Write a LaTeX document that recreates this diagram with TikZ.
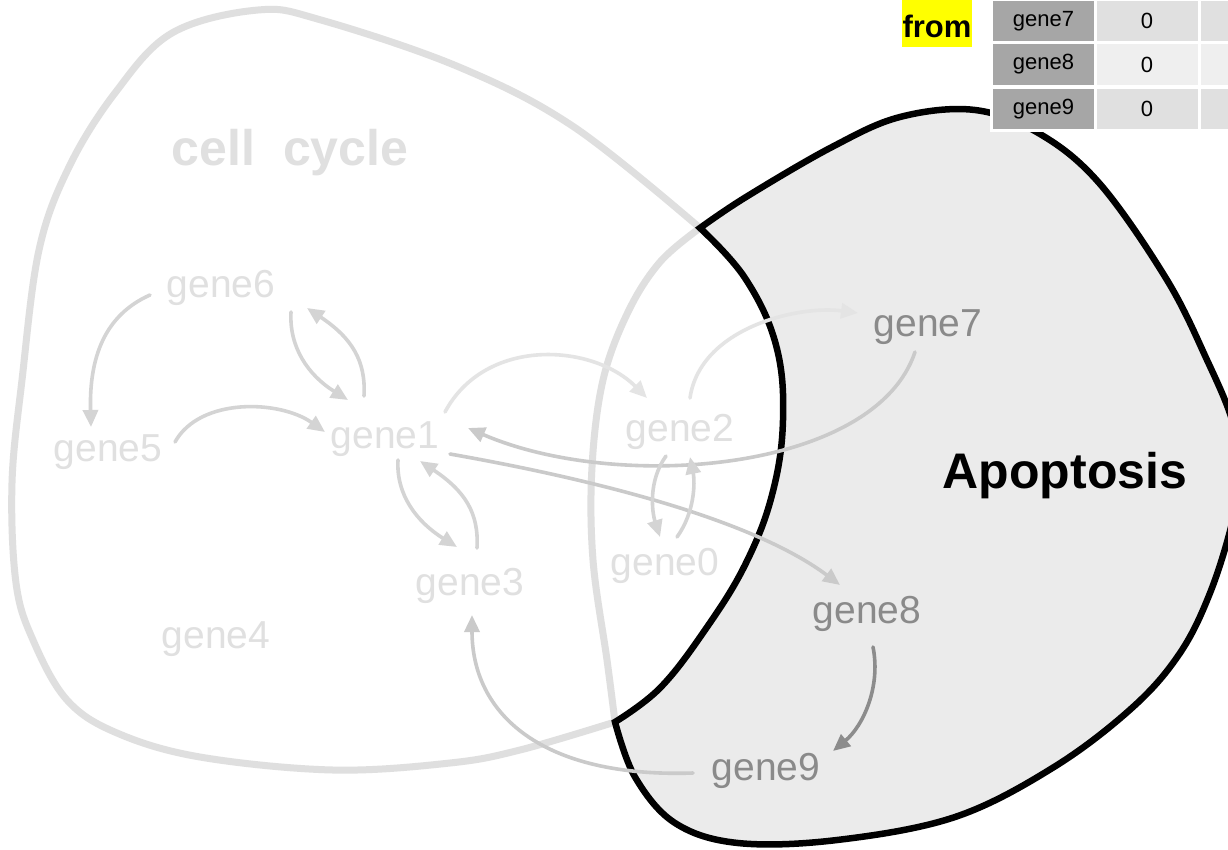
\documentclass[tikz,border=0pt]{standalone}
\usepackage{fontspec}
\setmainfont{Liberation Sans}
\usetikzlibrary{calc,arrows.meta}
\definecolor{ccline}{HTML}{DFDFDF}
\definecolor{cctext}{HTML}{E0E0E0}
\definecolor{apofill}{HTML}{EBEBEB}
\definecolor{darkgene}{HTML}{8A8A8A}
\definecolor{arrA}{HTML}{D4D4D4}
\definecolor{arrB}{HTML}{E4E4E4}
\definecolor{arrC}{HTML}{CACACA}
\definecolor{arrD}{HTML}{8C8C8C}
\definecolor{celldark}{HTML}{A6A6A6}
\definecolor{cellmid}{HTML}{E0E0E0}
\definecolor{celllight}{HTML}{EFEFEF}
\definecolor{hiyellow}{HTML}{FFFF00}
\begin{document}
\begin{tikzpicture}[x=1pt,y=-1pt,
  gene/.style={font=\fontsize{39}{40}\selectfont, inner sep=0pt, text height=28pt, text depth=8pt, anchor=center},
  lightgene/.style={gene, text=cctext},
  darkg/.style={gene, text=darkgene},
  conn/.style={line width=3.6pt, line cap=round, -{Triangle[length=17pt,width=15pt]}},
  connA/.style={conn, draw=arrA},
  connB/.style={conn, draw=arrB},
  connC/.style={conn, draw=arrC},
  connD/.style={conn, draw=arrD},
  title/.style={font=\bfseries\fontsize{50}{52}\selectfont, inner sep=0pt, anchor=base},
  cell/.style={inner sep=0pt, minimum width=101pt, minimum height=40pt, font=\fontsize{22}{24}\selectfont, text=black},
]
\useasboundingbox (0,0) rectangle (1228,849);
\clip (0,0) rectangle (1228,849);
\fill[white] (0,0) rectangle (1228,849);

% cell cycle outline
\draw[ccline, line width=7pt, line join=round]
  plot[smooth, tension=0.6] coordinates {(700,228) (574,127) (459,67) (321,20) (258,10) (172,33) (115,93) (69,167) (39,250) (22,380) (12,483) (16,583) (33,640) (67,700) (117,733) (200,757) (333,770) (450,763) (520,750) (615,722)}
  -- plot[smooth, tension=0.6] coordinates {(615,722) (607,660) (593,560) (592,467) (603,380) (628,312) (660,262) (700,228)};

% apoptosis region
\filldraw[fill=apofill, draw=black, line width=6.5pt, line join=miter]
  plot[smooth, tension=0.6] coordinates {(700,228) (746,197) (832,147) (900,117) (975,110) (1040,134) (1100,184) (1167,280) (1207,360) (1232,420) (1240,470) (1232,523) (1210,593) (1180,653) (1133,707) (1054,767) (955,817) (837,840) (738,843) (675,823) (635,777) (615,722)}
  -- plot[smooth, tension=0.65] coordinates {(615,722) (660,688) (705,630) (745,565) (772,495) (783,420) (776,345) (745,278) (700,228)}
  -- cycle;

% labels of the groups
\node[title, text=cctext] (cc) at (290,165) {cell~~cycle};
\node[title, text=black] (apo) at (1065,488) {Apoptosis};

% genes
\node[lightgene] (g6) at (221,287) {gene6};
\node[lightgene] (g5) at (108,451) {gene5};
\node[lightgene] (g1) at (385,438) {gene1};
\node[lightgene] (g3) at (470,585) {gene3};
\node[lightgene] (g4) at (216,638) {gene4};
\node[lightgene] (g2) at (680,431) {gene2};
\node[lightgene] (g0) at (665,565) {gene0};
\node[darkg] (g7) at (928,326) {gene7};
\node[darkg] (g8) at (867,613) {gene8};
\node[darkg] (g9) at (766,770) {gene9};

% connectors
\draw[connA] ($(g6)+(-71,8)$) .. controls +(-45,20) and +(-2,-70) .. ($(g5)+(-17,-24)$);
\draw[connA] ($(g5)+(67,-9)$) .. controls +(25,-45) and +(-45,-32) .. ($(g1)+(-60,-6)$);
\draw[connA] ($(g6)+(70,25)$) .. controls +(-2,35) and +(-40,-25) .. ($(g1)+(-37,-38)$);
\draw[connA] ($(g1)+(-21,-42)$) .. controls +(2,-35) and +(45,30) .. ($(g6)+(86,21)$);
\draw[connA] ($(g1)+(13,22)$) .. controls +(-2,35) and +(-40,-25) .. ($(g3)+(-13,-38)$);
\draw[connA] ($(g3)+(7,-37)$) .. controls +(2,-35) and +(45,30) .. ($(g1)+(35,23)$);
\draw[connB] ($(g1)+(60,-26)$) .. controls +(40,-75) and +(-55,-55) .. ($(g2)+(-33,-33)$);
\draw[connB] ($(g2)+(10,-33)$) .. controls +(10,-70) and +(-60,-8) .. ($(g7)+(-70,-13)$);
\draw[connC] ($(g7)+(-13,26)$) .. controls +(-40,120) and +(150,65) .. ($(g1)+(83,-10)$);
\draw[connC] ($(g1)+(65,16)$) .. controls +(170,30) and +(-80,-60) .. ($(g8)+(-27,-28)$);
\draw[connA] ($(g2)+(-14,25)$) .. controls +(-18,25) and +(-8,-25) .. ($(g0)+(-5,-28)$);
\draw[connA] ($(g0)+(12,-28)$) .. controls +(18,-25) and +(5,25) .. ($(g2)+(10,26)$);
\draw[connD] ($(g8)+(6,34)$) .. controls +(8,40) and +(30,-25) .. ($(g9)+(67,-19)$);
\draw[connC] ($(g9)+(-73,3)$) .. controls +(-150,5) and +(0,100) .. ($(g3)+(2,30)$);

% table
\fill[white] (990,0) rectangle (1240,132);
\node[cell, fill=celldark] (t11) at (1043.5,21) {gene7};
\node[cell, fill=cellmid] (t12) at (1147,21) {0};
\node[cell, fill=cellmid, anchor=west] (t13) at (1201,21) {};
\node[cell, fill=celldark, minimum height=41pt] (t21) at (1043.5,64.5) {gene8};
\node[cell, fill=celllight, minimum height=41pt] (t22) at (1147,64.5) {0};
\node[cell, fill=celllight, minimum height=41pt, anchor=west] (t23) at (1201,64.5) {};
\node[cell, fill=celldark] (t31) at (1043.5,109) {gene9};
\node[cell, fill=cellmid] (t32) at (1147,109) {0};
\node[cell, fill=cellmid, anchor=west] (t33) at (1201,109) {};

% from label
\fill[hiyellow] (902,0) rectangle (972,47);
\node[font=\bfseries\fontsize{31}{33}\selectfont, inner sep=0pt, anchor=base] (from) at (937,37) {from};
\end{tikzpicture}
\end{document}
